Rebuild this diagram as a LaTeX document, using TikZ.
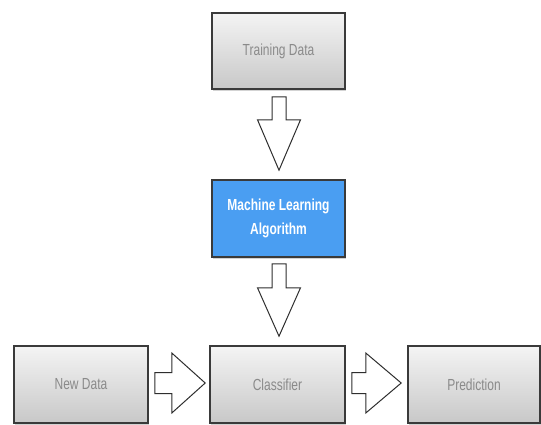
\documentclass[tikz,border=0pt]{standalone}
\usepackage{fontspec}
\setmainfont{Liberation Sans}
\newfontfamily\condfont[FakeStretch=0.75]{Liberation Sans}
\usetikzlibrary{calc,shadows}
\definecolor{boxborder}{HTML}{3A3A3A}
\definecolor{boxtop}{HTML}{F4F4F4}
\definecolor{boxbottom}{HTML}{C8C8C8}
\definecolor{boxtext}{HTML}{8A8A8A}
\definecolor{mlblue}{HTML}{4A9EF2}
\definecolor{arrowline}{HTML}{2E2E2E}
\tikzset{
  graybox/.style={draw=boxborder, line width=1.6pt, top color=boxtop, bottom color=boxbottom,
    minimum width=133pt, minimum height=76pt, inner sep=0pt,
    font=\condfont\fontsize{16}{20}\selectfont, text=boxtext,
    drop shadow={shadow xshift=1pt, shadow yshift=-1.5pt, opacity=0.35}},
  bluebox/.style={draw=boxborder, line width=1.6pt, fill=mlblue,
    minimum width=133pt, minimum height=77pt, inner sep=0pt, align=center,
    font=\condfont\bfseries\fontsize{16}{24}\selectfont, text=white,
    drop shadow={shadow xshift=1pt, shadow yshift=-1.5pt, opacity=0.35}},
  blockarrow/.style={draw=arrowline, line width=1pt, fill=white, line join=miter}
}
\begin{document}
\begin{tikzpicture}[x=1pt,y=-1pt]
\useasboundingbox (0,0) rectangle (541,424);
\node[graybox] (td) at (278.5,51) {Training Data};
\node[bluebox] (ml) at (278.5,218.5) {Machine Learning\\Algorithm};
\node[graybox, minimum width=134pt, minimum height=77pt] (nd) at (81,384.5) {New Data};
\node[graybox, minimum width=135pt, minimum height=77pt] (cl) at (277.5,384.5) {Classifier};
\node[graybox, minimum width=132pt, minimum height=77pt] (pr) at (474,384.5) {Prediction};
% vertical arrow: Training Data -> ML
\coordinate (a1s) at ($(td.south)+(0.5,0)$);
\coordinate (a1t) at (a1s |- ml.north);
\draw[blockarrow] ($(a1s)+(-7,7)$) -- ($(a1s)+(-7,30)$) -- ($(a1s)+(-21.5,30)$)
  -- ($(a1t)+(0,-9)$) -- ($(a1s)+(21.5,30)$) -- ($(a1s)+(7,30)$) -- ($(a1s)+(7,7)$) -- cycle;
% vertical arrow: ML -> Classifier
\coordinate (a2s) at ($(ml.south)+(0.5,0)$);
\coordinate (a2t) at (a2s |- cl.north);
\draw[blockarrow] ($(a2s)+(-7,6)$) -- ($(a2s)+(-7,30)$) -- ($(a2s)+(-21.5,30)$)
  -- ($(a2t)+(0,-9)$) -- ($(a2s)+(21.5,30)$) -- ($(a2s)+(7,30)$) -- ($(a2s)+(7,6)$) -- cycle;
% horizontal arrow: New Data -> Classifier
\coordinate (a3s) at ($(nd.east)+(0,-1.5)$);
\coordinate (a3t) at (a3s -| cl.west);
\draw[blockarrow] ($(a3s)+(6,-10.5)$) -- ($(a3s)+(23,-10.5)$) -- ($(a3s)+(23,-30)$)
  -- ($(a3t)+(-4,0)$) -- ($(a3s)+(23,30)$) -- ($(a3s)+(23,10.5)$) -- ($(a3s)+(6,10.5)$) -- cycle;
% horizontal arrow: Classifier -> Prediction
\coordinate (a4s) at ($(cl.east)+(0,-1.5)$);
\coordinate (a4t) at (a4s -| pr.west);
\draw[blockarrow] ($(a4s)+(6,-10.5)$) -- ($(a4s)+(20,-10.5)$) -- ($(a4s)+(20,-30)$)
  -- ($(a4t)+(-6,0)$) -- ($(a4s)+(20,30)$) -- ($(a4s)+(20,10.5)$) -- ($(a4s)+(6,10.5)$) -- cycle;
\end{tikzpicture}
\end{document}
